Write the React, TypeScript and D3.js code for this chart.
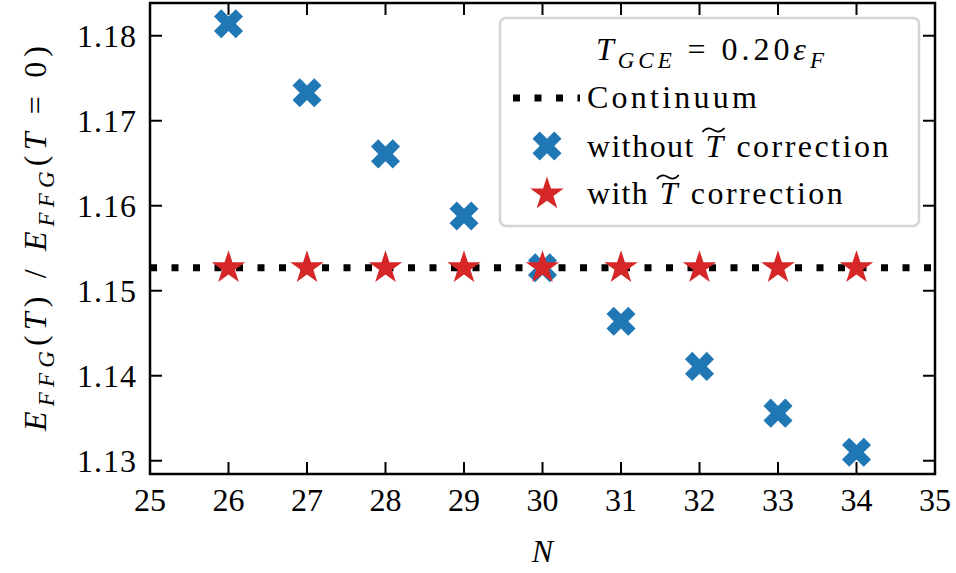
import * as d3 from "d3";

// particle numbers
const particles = [26, 27, 28, 29, 30, 31, 32, 33, 34];
// E_FFG(T) / E_FFG(T=0) without the T-tilde correction
const withoutCorrection = [1.1814, 1.1733, 1.1661, 1.1588, 1.1527, 1.1464, 1.1411, 1.1356, 1.1310];
// with the correction (sits on the continuum value)
const withCorrection = [1.1527, 1.1527, 1.1527, 1.1527, 1.1527, 1.1527, 1.1527, 1.1527, 1.1527];
const continuumValue = 1.1527;

const xTicks = [25, 26, 27, 28, 29, 30, 31, 32, 33, 34, 35];
const yTicks = [1.13, 1.14, 1.15, 1.16, 1.17, 1.18];

// serif only survives up to ~32px here, so no text is bigger than that
const FONT = "Liberation Serif";
const FS = 32;
const BLUE = "#1f77b4";
const RED = "#d62728";

const W = 956;
const H = 573;
const m = { left: 150, right: 21, top: 3, bottom: 99 };

const x = d3.scaleLinear().domain([25, 35]).range([m.left, W - m.right]);
const y = d3.scaleLinear().domain([1.12844, 1.18385]).range([H - m.bottom, m.top]);

// filled "X" marker: plus with arm thickness 1/3 of length, turned 45deg
const xPath = (r: number) => {
  const w = r / 3;
  const pts = [
    [w, w], [r, w], [r, -w], [w, -w], [w, -r], [-w, -r],
    [-w, -w], [-r, -w], [-r, w], [-w, w], [-w, r], [w, r],
  ];
  const c = Math.SQRT1_2;
  return "M" + pts.map(([a, b]) => `${(a - b) * c},${(a + b) * c}`).join("L") + "Z";
};

const starPath = (R: number) => {
  const ri = R * 0.381966;
  const pts: string[] = [];
  for (let i = 0; i < 10; i++) {
    const rr = i % 2 === 0 ? R : ri;
    const a = (i * Math.PI) / 5;
    pts.push(`${rr * Math.sin(a)},${-rr * Math.cos(a)}`);
  }
  return "M" + pts.join("L") + "Z";
};

const X_D = xPath(15.4);
const STAR_D = starPath(17.6);

// legend line with a T-tilde in the middle; pieces laid out by hand
const TildeLine = ({ x0, yb, before, after }: { x0: number; yb: number; before: string; after: string }) => {
  const bw = before.length * 15.2;
  return (
    <g fontFamily={FONT} fontSize={FS}>
      <text x={x0} y={yb} textLength={bw} lengthAdjust="spacing">
        {before}
      </text>
      <text x={x0 + bw + 12} y={yb} fontStyle="italic">
        T
      </text>
      <path d={`M${x0 + bw + 9},${yb - 25} q5,-6 11,-2 t11,-2`} fill="none" stroke="#000" strokeWidth={1.6} />
      <text x={x0 + bw + 43} y={yb} textLength={after.length * 15.2} lengthAdjust="spacing">
        {after}
      </text>
    </g>
  );
};

const Chart = () => {
  const tl = 12;
  const plotH = H - m.bottom - m.top;
  const yMid = m.top + plotH / 2;
  const sd = FS * 0.24;
  return (
    <svg width={W} height={H} style={{ position: "absolute", left: 0, top: 0, background: "#fff" }}>
      {/* continuum */}
      <line
        x1={x(25)}
        x2={x(35)}
        y1={y(continuumValue)}
        y2={y(continuumValue)}
        stroke="#000"
        strokeWidth={7}
        strokeDasharray="7 14.5"
      />
      {particles.map((n, i) => (
        <path key={"x" + n} d={X_D} fill={BLUE} transform={`translate(${x(n)},${y(withoutCorrection[i])})`} />
      ))}
      {particles.map((n, i) => (
        <path key={"s" + n} d={STAR_D} fill={RED} transform={`translate(${x(n)},${y(withCorrection[i])})`} />
      ))}

      {/* frame and ticks */}
      <rect x={m.left} y={m.top} width={W - m.right - m.left} height={plotH} fill="none" stroke="#000" strokeWidth={2.5} />
      <g stroke="#000" strokeWidth={2}>
        {xTicks.slice(1, -1).map((t) => (
          <g key={"xt" + t}>
            <line x1={x(t)} x2={x(t)} y1={H - m.bottom} y2={H - m.bottom - tl} />
            <line x1={x(t)} x2={x(t)} y1={m.top} y2={m.top + tl} />
          </g>
        ))}
        {yTicks.map((t) => (
          <g key={"yt" + t}>
            <line x1={m.left} x2={m.left + tl} y1={y(t)} y2={y(t)} />
            <line x1={W - m.right} x2={W - m.right - tl} y1={y(t)} y2={y(t)} />
          </g>
        ))}
      </g>
      {xTicks.map((t) => (
        <text key={"xl" + t} x={x(t)} y={H - m.bottom + 37} textAnchor="middle" fontFamily={FONT} fontSize={FS}>
          {t}
        </text>
      ))}
      {yTicks.map((t) => (
        <text
          key={"yl" + t}
          x={m.left - 14}
          y={y(t) + 11}
          textAnchor="end"
          fontFamily={FONT}
          fontSize={FS}
          textLength={59}
          lengthAdjust="spacing"
        >
          {t.toFixed(2)}
        </text>
      ))}

      {/* axis labels */}
      <text x={x(30)} y={562} textAnchor="middle" fontFamily={FONT} fontSize={FS} fontStyle="italic">
        N
      </text>
      <text
        transform={`translate(46,${yMid}) rotate(-90)`}
        textAnchor="middle"
        fontFamily={FONT}
        fontSize={FS}
        textLength={385}
        lengthAdjust="spacing"
      >
        <tspan fontStyle="italic">E</tspan>
        <tspan fontStyle="italic" fontSize={23} dy={sd}>FFG</tspan>
        <tspan dy={-sd}>(</tspan>
        <tspan fontStyle="italic">T</tspan>
        <tspan>)  /  </tspan>
        <tspan fontStyle="italic">E</tspan>
        <tspan fontStyle="italic" fontSize={23} dy={sd}>FFG</tspan>
        <tspan dy={-sd}>(</tspan>
        <tspan fontStyle="italic">T</tspan>
        <tspan>  =  0)</tspan>
      </text>

      {/* legend */}
      <g>
        <rect x={500} y={18} width={419} height={208} rx={6} fill="#fff" fillOpacity={0.8} stroke="#d4d4d4" strokeWidth={2.5} />
        <text x={710} y={60} textAnchor="middle" fontFamily={FONT} fontSize={FS} textLength={228} lengthAdjust="spacing">
          <tspan fontStyle="italic">T</tspan>
          <tspan fontStyle="italic" fontSize={23} dy={sd}>GCE</tspan>
          <tspan dy={-sd}>  =  0.20</tspan>
          <tspan fontStyle="italic">ε</tspan>
          <tspan fontStyle="italic" fontSize={23} dy={sd}>F</tspan>
        </text>
        <line x1={513} x2={580} y1={98} y2={98} stroke="#000" strokeWidth={7} strokeDasharray="7 14.5" />
        <path d={X_D} fill={BLUE} transform="translate(547,146)" />
        <path d={STAR_D} fill={RED} transform="translate(547,194)" />
        <text x={587} y={108} fontFamily={FONT} fontSize={FS} textLength={170} lengthAdjust="spacing">
          Continuum
        </text>
        <TildeLine x0={587} yb={157} before="without" after="correction" />
        <TildeLine x0={587} yb={204} before="with" after="correction" />
      </g>
    </svg>
  );
};

export default function App() {
  return <Chart />;
}
